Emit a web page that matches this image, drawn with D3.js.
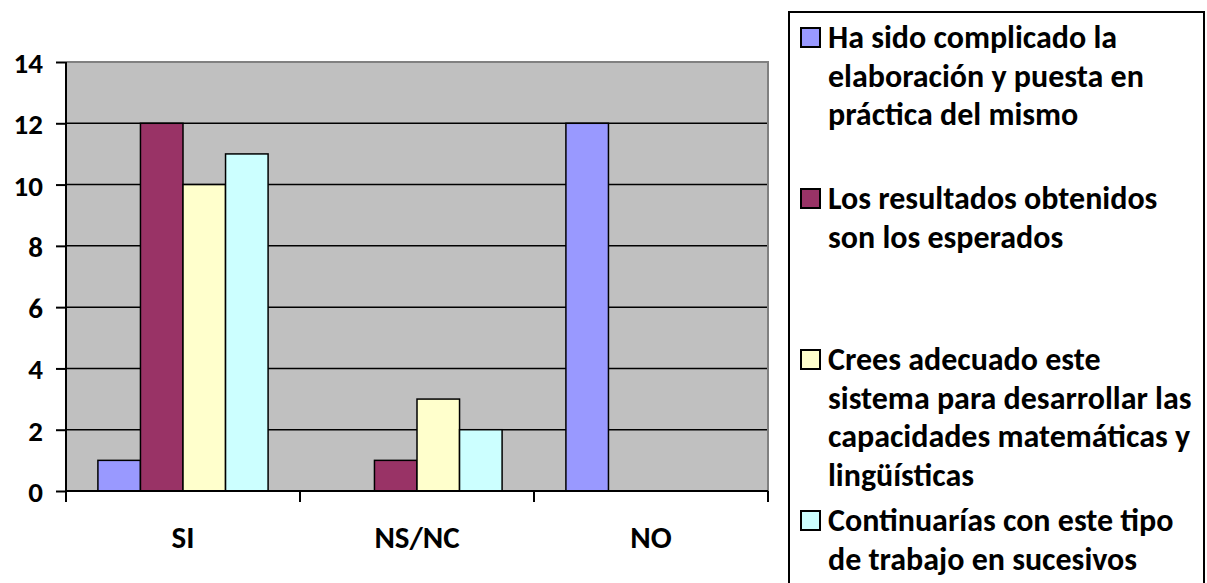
<!DOCTYPE html>
<html>
<head>
<meta charset="utf-8">
<script src="https://cdn.jsdelivr.net/npm/d3@7"></script>
<style>
  body { margin: 0; background: #fff; }
  svg { display: block; }
  text { font-family: Carlito, Calibri, Lato, sans-serif; font-weight: bold; fill: #000; }
</style>
</head>
<body>
<svg id="svg" width="1207" height="583"></svg>
<script>
// categorías del eje X
const categories = ["SI", "NS/NC", "NO"];
// series (una por pregunta)
const seriesNames = [
  "Ha sido complicado la elaboración y puesta en práctica del mismo",
  "Los resultados obtenidos son los esperados",
  "Crees adecuado este sistema para desarrollar las capacidades matemáticas y lingüísticas",
  "Continuarías con este tipo de trabajo en sucesivos"
];
// líneas de la leyenda tal como aparecen
const legendLines = [
  ["Ha sido complicado la", "elaboración y puesta en", "práctica del mismo"],
  ["Los resultados obtenidos", "son los esperados"],
  ["Crees adecuado este", "sistema para desarrollar las", "capacidades matemáticas y", "lingüísticas"],
  ["Continuarías con este tipo", "de trabajo en sucesivos"]
];
// valores por serie: [SI, NS/NC, NO]
const serie1 = [1, 0, 12];
const serie2 = [12, 1, 0];
const serie3 = [10, 3, 0];
const serie4 = [11, 2, 0];
const seriesValues = [serie1, serie2, serie3, serie4];
const seriesColors = ["#9999FF", "#993366", "#FFFFCC", "#CCFFFF"];
const yTicks = [0, 2, 4, 6, 8, 10, 12, 14];

const svg = d3.select("#svg");

// área del gráfico
const plot = { left: 66, right: 768, top: 62, bottom: 491 };

const x0 = d3.scaleBand().domain(categories).range([plot.left, plot.right]).padding(0);
const x1 = d3.scaleBand().domain(d3.range(seriesNames.length))
  .range([0, x0.bandwidth()]).paddingInner(0).paddingOuter(0.75);
const y = d3.scaleLinear().domain([0, 14]).range([plot.bottom, plot.top]);

// fondo gris
svg.append("rect")
  .attr("x", plot.left).attr("y", plot.top)
  .attr("width", plot.right - plot.left).attr("height", plot.bottom - plot.top)
  .attr("fill", "#C0C0C0");

// líneas de cuadrícula
svg.append("g")
  .selectAll("line")
  .data(yTicks.filter(d => d > 0))
  .join("line")
  .attr("x1", plot.left).attr("x2", plot.right)
  .attr("y1", d => y(d)).attr("y2", d => y(d))
  .attr("stroke", "#000").attr("stroke-width", 1.5);

// borde superior y derecho en gris
svg.append("path")
  .attr("d", `M${plot.left},${plot.top} H${plot.right} V${plot.bottom}`)
  .attr("fill", "none").attr("stroke", "#808080").attr("stroke-width", 2);

// barras
const data = [];
categories.forEach((c, ci) => {
  seriesValues.forEach((vals, si) => data.push({ cat: c, s: si, v: vals[ci] }));
});
svg.append("g")
  .selectAll("rect")
  .data(data.filter(d => d.v > 0))
  .join("rect")
  .attr("x", d => x0(d.cat) + x1(d.s))
  .attr("y", d => y(d.v))
  .attr("width", x1.bandwidth())
  .attr("height", d => y(0) - y(d.v))
  .attr("fill", d => seriesColors[d.s])
  .attr("stroke", "#000").attr("stroke-width", 1.5);

// eje Y
const yAxis = svg.append("g")
  .attr("transform", `translate(${plot.left},0)`)
  .call(d3.axisLeft(y).tickValues(yTicks).tickSize(10).tickPadding(13));
yAxis.attr("font-size", null).attr("font-family", null);
yAxis.select(".domain").attr("stroke-width", 2).attr("d", `M0,${plot.top}V${plot.bottom + 11}`);
yAxis.selectAll(".tick line").attr("stroke-width", 2);
yAxis.selectAll(".tick text").style("font-size", "29px").attr("dy", "0.36em");

// eje X: marcas en los límites de categoría
const xAxis = svg.append("g");
xAxis.append("line")
  .attr("x1", plot.left).attr("x2", plot.right)
  .attr("y1", plot.bottom).attr("y2", plot.bottom)
  .attr("stroke", "#000").attr("stroke-width", 2);
xAxis.selectAll("line.tk")
  .data(categories.map(c => x0(c)).concat([plot.right]))
  .join("line").attr("class", "tk")
  .attr("x1", d => d).attr("x2", d => d)
  .attr("y1", plot.bottom).attr("y2", plot.bottom + 11)
  .attr("stroke", "#000").attr("stroke-width", 2);
xAxis.selectAll("text")
  .data(categories)
  .join("text")
  .attr("x", d => x0(d) + x0.bandwidth() / 2)
  .attr("y", 548)
  .attr("text-anchor", "middle")
  .style("font-size", "31px")
  .text(d => d);

// leyenda
const legend = svg.append("g");
legend.append("rect")
  .attr("x", 789).attr("y", 12).attr("width", 415).attr("height", 600)
  .attr("fill", "#fff").attr("stroke", "#000").attr("stroke-width", 2);

const entryStart = 48, entryStep = 161, lineStep = 38.5;
const items = legend.selectAll("g.item")
  .data(seriesNames)
  .join("g").attr("class", "item")
  .attr("transform", (d, i) => `translate(0,${entryStart + i * entryStep})`);
items.append("rect")
  .attr("x", 801).attr("y", -20).attr("width", 19).attr("height", 19)
  .attr("fill", (d, i) => seriesColors[i])
  .attr("stroke", "#000").attr("stroke-width", 2);
items.each(function (d, i) {
  d3.select(this).selectAll("text")
    .data(legendLines[i])
    .join("text")
    .attr("x", 828)
    .attr("y", (t, j) => j * lineStep)
    .style("font-size", "32px")
    .text(t => t);
});
</script>
</body>
</html>
